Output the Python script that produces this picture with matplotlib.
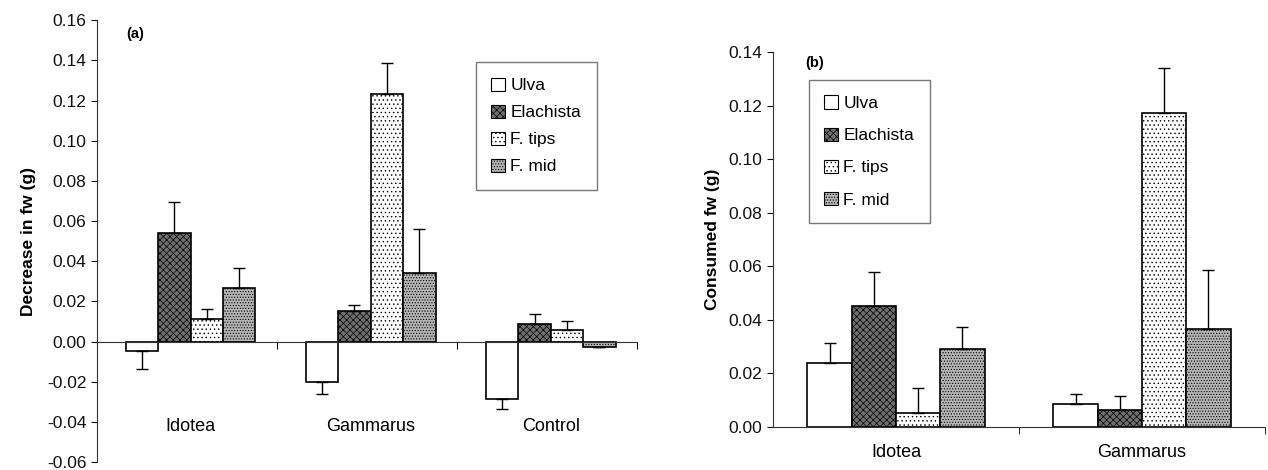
import numpy as np
import matplotlib
matplotlib.use("Agg")
import matplotlib.pyplot as plt

plt.rcParams['font.family'] = ['Liberation Sans', 'DejaVu Sans']
plt.rcParams['hatch.linewidth'] = 0.5

foods = ["Ulva", "Elachista", "F. tips", "F. mid"]

groups_a = ["Idotea", "Gammarus", "Control"]
ulva_a = [-0.0046, -0.020, -0.0286]
elach_a = [0.0542, 0.0152, 0.0089]
tips_a = [0.0112, 0.1235, 0.0058]
mid_a = [0.0268, 0.0342, -0.0025]
ulva_a_err = [0.0089, 0.006, 0.005]
elach_a_err = [0.0152, 0.003, 0.0048]
tips_a_err = [0.005, 0.015, 0.0046]
mid_a_err = [0.0097, 0.022, 0.0]

groups_b = ["Idotea", "Gammarus"]
ulva_b = [0.0239, 0.0087]
elach_b = [0.0454, 0.0063]
tips_b = [0.0052, 0.1173]
mid_b = [0.0291, 0.0365]
ulva_b_err = [0.0075, 0.0035]
elach_b_err = [0.0125, 0.0053]
tips_b_err = [0.0093, 0.0167]
mid_b_err = [0.0081, 0.022]

styles = [
    dict(facecolor="white", hatch=None),
    dict(facecolor="#6f6f6f", hatch="xxxxx"),
    dict(facecolor="white", hatch="...."),
    dict(facecolor="#b5b5b5", hatch="......"),
]


def draw(ax, groups, series, errs, shift=0.0):
    x = np.arange(len(groups)) + 0.5 + shift
    w = 0.18
    for i, (vals, err) in enumerate(zip(series, errs)):
        vals = np.array(vals)
        err = np.array(err)
        pos = x + (i - 1.5) * w
        ax.bar(pos, vals, w, edgecolor="black", linewidth=1.2, zorder=2, **styles[i])
        lo = np.where(vals < 0, err, 0)
        hi = np.where(vals >= 0, err, 0)
        ax.errorbar(pos, vals, yerr=[lo, hi], fmt="none", ecolor="black",
                    elinewidth=1, capsize=4, capthick=1, zorder=3)
    ax.set_xlim(0, len(groups))
    for s in ["top", "right"]:
        ax.spines[s].set_visible(False)
    ax.spines["left"].set_color("#333333")
    ax.spines["bottom"].set_color("#333333")
    ax.tick_params(axis="y", direction="out", length=4, labelsize=12.5, colors="#111111")


def legend(ax, loc, spacing):
    from matplotlib.patches import Patch
    handles = [Patch(edgecolor="black", linewidth=0.8, **st) for st in styles]
    lg = ax.legend(handles, foods, loc="upper left", bbox_to_anchor=loc,
                   fontsize=12.5, frameon=True, fancybox=False, edgecolor="#555555",
                   handlelength=0.8, handleheight=0.8, handletextpad=0.3,
                   labelspacing=spacing, borderpad=0.9)
    lg.get_frame().set_linewidth(1)


fig = plt.figure(figsize=(12.68, 4.7), dpi=100)

# panel (a)
ax1 = fig.add_axes([0.0765, 0.017, 0.426, 0.94])
draw(ax1, groups_a, [ulva_a, elach_a, tips_a, mid_a],
     [ulva_a_err, elach_a_err, tips_a_err, mid_a_err], shift=0.02)
ax1.set_ylim(-0.06, 0.16)
ax1.set_yticks(np.arange(-0.06, 0.161, 0.02))
ax1.yaxis.set_major_formatter(matplotlib.ticker.FormatStrFormatter("%.2f"))
ax1.spines["bottom"].set_position(("data", 0))
ax1.set_xticks([1, 2, 3])
ax1.set_xticklabels([])
ax1.tick_params(axis="x", direction="out", length=5)
for i, g in enumerate(groups_a):
    ax1.text(i + 0.52, -0.0425, g, ha="center", va="center", fontsize=13)
ax1.set_ylabel("Decrease in fw (g)", fontsize=12.5, fontweight="bold", labelpad=8)
ax1.text(0.16, 0.153, "(a)", fontsize=10.5, fontweight="bold", va="center")
legend(ax1, (0.685, 0.925), 0.65)

# panel (b)
ax2 = fig.add_axes([0.6096, 0.0915, 0.388, 0.797])
draw(ax2, groups_b, [ulva_b, elach_b, tips_b, mid_b],
     [ulva_b_err, elach_b_err, tips_b_err, mid_b_err])
ax2.set_ylim(0, 0.14)
ax2.set_yticks(np.arange(0, 0.141, 0.02))
ax2.yaxis.set_major_formatter(matplotlib.ticker.FormatStrFormatter("%.2f"))
ax2.set_xticks([0.5, 1.5])
ax2.set_xticklabels(groups_b, fontsize=13)
ax2.set_xticks([1, 2], minor=True)
ax2.tick_params(axis="x", which="major", length=0, pad=12)
ax2.tick_params(axis="x", which="minor", direction="out", length=5)
ax2.set_ylabel("Consumed fw (g)", fontsize=12.5, fontweight="bold", labelpad=6)
ax2.text(0.13, 0.136, "(b)", fontsize=10.5, fontweight="bold", va="center")
legend(ax2, (0.055, 0.95), 0.95)

fig.savefig("out.png", dpi=100)
